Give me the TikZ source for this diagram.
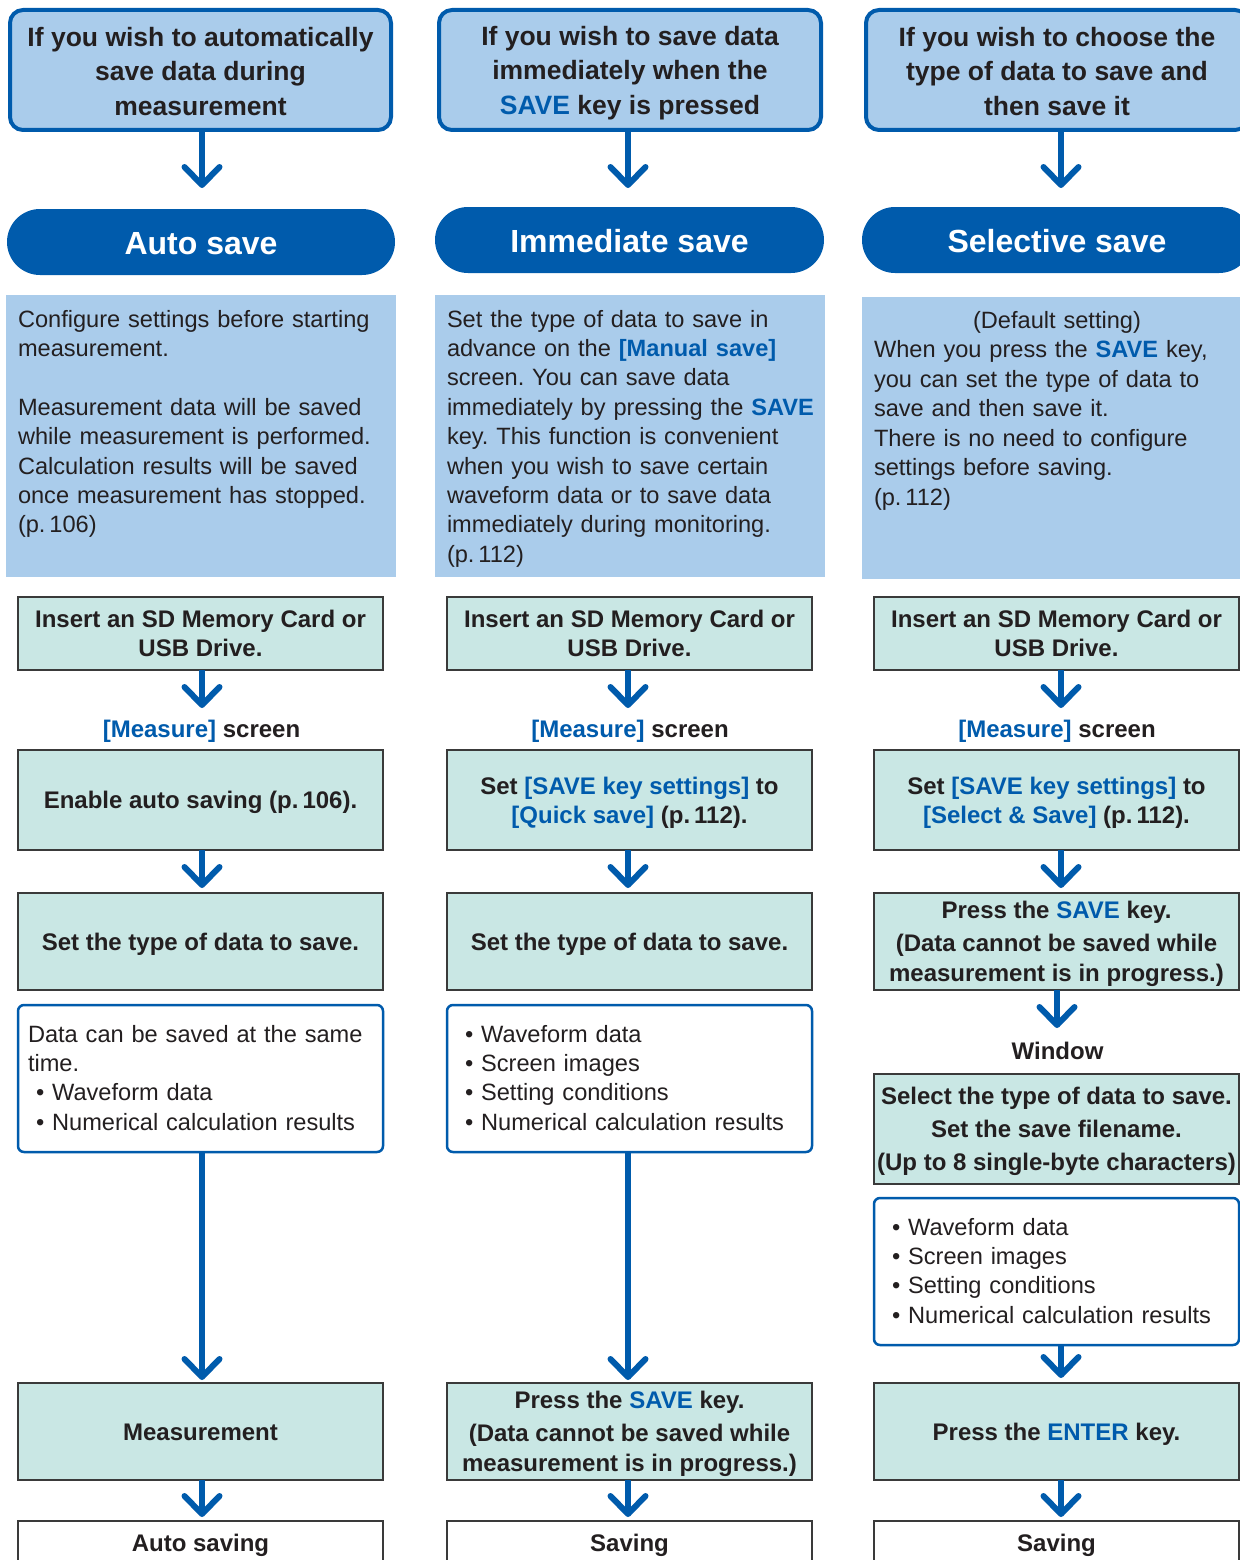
\documentclass[tikz,border=0pt]{standalone}
\usepackage{fontspec}
\setmainfont{Liberation Sans}
\usetikzlibrary{arrows.meta}
\definecolor{kblue}{HTML}{005BAC}
\definecolor{lblue}{HTML}{AACCEB}
\definecolor{tealbg}{HTML}{C9E7E4}
\definecolor{ink}{HTML}{231F20}
\definecolor{edge}{HTML}{3A3A3A}
\newcommand{\kb}[1]{\textcolor{kblue}{#1}}
\newcommand{\kbb}[1]{\textcolor{kblue}{\bfseries #1}}
\newcommand{\tup}{\rule{0pt}{22.5pt}}
\begin{document}
\frenchspacing
\begin{tikzpicture}[x=1pt,y=-1pt,
 every node/.style={inner sep=0pt, outer sep=0pt, text=ink},
 topbox/.style={draw=kblue, line width=4pt, fill=lblue, rounded corners=13pt, align=center, font=\fontsize{26.5}{34.5}\selectfont\bfseries},
 pill/.style={fill=kblue, rounded corners=33pt, text=white, font=\fontsize{32}{38}\selectfont\bfseries},
 descbox/.style={fill=lblue},
 desctext/.style={font=\fontsize{23.6}{29.4}\selectfont, align=left, text width=400pt, anchor=base west},
 stepbox/.style={draw=edge, line width=1.3pt, fill=tealbg, align=center, minimum width=365pt, font=\fontsize{24}{29.5}\selectfont\bfseries},
 listbox/.style={draw=kblue, line width=2.5pt, fill=white, rounded corners=6pt, minimum width=365pt, minimum height=147pt},
 endbox/.style={draw=edge, line width=1.3pt, fill=white, minimum width=365pt, minimum height=44pt, font=\fontsize{24}{29.5}\selectfont\bfseries},
 lab/.style={font=\fontsize{24}{29.5}\selectfont\bfseries},
 flow/.style={draw=kblue, line width=6pt, -{Straight Barb[length=18pt,width=35pt,round]}},
]
\useasboundingbox (0,0) rectangle (1239,1560);
\fill[white] (0,0) rectangle (1239,1560);

% ---------- column 1 ----------
\node[topbox, minimum width=381pt, minimum height=120pt] (t1) at (200.5,70)
  {\rule{0pt}{21.5pt}If you wish to automatically\\save data during\\measurement};
\node[pill, minimum width=388pt, minimum height=66pt] (p1) at (201,242) {\rule{0pt}{25.5pt}Auto save};
\node[descbox, minimum width=390pt, minimum height=282pt] (d1) at (201,436) {};
\node[desctext] (dt1) at (18,327) {Configure settings before starting\\measurement.\\[29.4pt]Measurement data will be saved\\while measurement is performed.\\Calculation results will be saved\\once measurement has stopped.\\(p.\,106)};
\node[stepbox, minimum height=73pt] (i1) at (200.5,633.5) {Insert an SD Memory Card or\\USB Drive.};
\node[lab] (m1) at (201.5,729) {\tup\kb{[Measure]} screen};
\node[stepbox, minimum height=100pt] (e1) at (200.5,800) {\tup Enable auto saving (p.\,106).};
\node[stepbox, minimum height=97pt] (s1) at (200.5,941.5) {\tup Set the type of data to save.};
\node[listbox] (l1) at (200.5,1078.5) {};
\node[desctext] (lt1) at (28,1042) {Data can be saved at the same\\time.\\\hspace*{8pt}• Waveform data\\\hspace*{8pt}• Numerical calculation results};
\node[stepbox, minimum height=97pt] (r1) at (200.5,1431.5) {\rule{0pt}{17.5pt}Measurement};
\node[endbox] (f1) at (200.5,1543) {\tup Auto saving};

\draw[flow, shorten >=21pt] ([xshift=1.5pt]t1.south) -- ([xshift=1.5pt]t1.south |- p1.north);
\draw[flow, shorten >=42pt] ([xshift=1.5pt]i1.south) -- ([xshift=1.5pt]i1.south |- e1.north);
\draw[flow, shorten >=5pt] ([xshift=1.5pt]e1.south) -- ([xshift=1.5pt]e1.south |- s1.north);
\draw[flow, shorten >=3pt] ([xshift=1.5pt]l1.south) -- ([xshift=1.5pt]l1.south |- r1.north);
\draw[flow, shorten >=4pt] ([xshift=1.5pt]r1.south) -- ([xshift=1.5pt]r1.south |- f1.north);

% ---------- column 2 ----------
\node[topbox, minimum width=382pt, minimum height=120pt] (t2) at (630,70)
  {\rule{0pt}{25.5pt}If you wish to save data\\immediately when the\\\kb{SAVE} key is pressed};
\node[pill, minimum width=389pt, minimum height=66pt] (p2) at (629.5,240) {\rule{0pt}{25pt}Immediate save};
\node[descbox, minimum width=390pt, minimum height=282pt] (d2) at (630,436) {};
\node[desctext] (dt2) at (447,327) {Set the type of data to save in\\advance on the \kbb{[Manual save]}\\screen. You can save data\\immediately by pressing the \kbb{SAVE}\\key. This function is convenient\\when you wish to save certain\\waveform data or to save data\\immediately during monitoring.\\(p.\,112)};
\node[stepbox, minimum height=73pt] (i2) at (629.5,633.5) {Insert an SD Memory Card or\\USB Drive.};
\node[lab] (m2) at (630,729) {\tup\kb{[Measure]} screen};
\node[stepbox, minimum height=100pt] (e2) at (629.5,800) {\tup Set \kb{[SAVE key settings]} to\\\kb{[Quick save]} (p.\,112).};
\node[stepbox, minimum height=97pt] (s2) at (629.5,941.5) {\tup Set the type of data to save.};
\node[listbox] (l2) at (629.5,1078.5) {};
\node[desctext] (lt2) at (465,1042) {• Waveform data\\• Screen images\\• Setting conditions\\• Numerical calculation results};
\node[stepbox, minimum height=97pt] (r2) at (629.5,1431.5) {\tup Press the \kb{SAVE} key.\\[3.5pt](Data cannot be saved while\\measurement is in progress.)};
\node[endbox] (f2) at (629.5,1543) {\tup Saving};

\draw[flow, shorten >=19pt] ([xshift=-2pt]t2.south) -- ([xshift=-2pt]t2.south |- p2.north);
\draw[flow, shorten >=42pt] ([xshift=-1.5pt]i2.south) -- ([xshift=-1.5pt]i2.south |- e2.north);
\draw[flow, shorten >=5pt] ([xshift=-1.5pt]e2.south) -- ([xshift=-1.5pt]e2.south |- s2.north);
\draw[flow, shorten >=3pt] ([xshift=-1.5pt]l2.south) -- ([xshift=-1.5pt]l2.south |- r2.north);
\draw[flow, shorten >=4pt] ([xshift=-1.5pt]r2.south) -- ([xshift=-1.5pt]r2.south |- f2.north);

% ---------- column 3 ----------
\node[topbox, minimum width=382pt, minimum height=120pt] (t3) at (1057,70)
  {\rule{0pt}{21.5pt}If you wish to choose the\\type of data to save and\\then save it};
\node[pill, minimum width=390pt, minimum height=66pt] (p3) at (1057,240) {\rule{0pt}{25pt}Selective save};
\node[descbox, minimum width=390pt, minimum height=282pt] (d3) at (1057,438) {};
\node[desctext, font=\fontsize{23.6}{29.5}\selectfont] (dt3) at (874,328) {\makebox[366pt][c]{(Default setting)}\\When you press the \kbb{SAVE} key,\\you can set the type of data to\\save and then save it.\\There is no need to configure\\settings before saving.\\(p.\,112)};
\node[stepbox, minimum height=73pt] (i3) at (1056.5,633.5) {Insert an SD Memory Card or\\USB Drive.};
\node[lab] (m3) at (1057,729) {\tup\kb{[Measure]} screen};
\node[stepbox, minimum height=100pt] (e3) at (1056.5,800) {\tup Set \kb{[SAVE key settings]} to\\\kb{[Select \& Save]} (p.\,112).};
\node[stepbox, minimum height=97pt] (s3) at (1056.5,941.5) {\tup Press the \kb{SAVE} key.\\[3.5pt](Data cannot be saved while\\measurement is in progress.)};
\node[lab] (w3) at (1057.5,1050) {\rule{0pt}{20pt}Window};
\node[stepbox, minimum height=110pt] (q3) at (1056.5,1129) {\tup Select the type of data to save.\\[3.5pt]Set the save filename.\\[3.5pt](Up to 8 single-byte characters)};
\node[listbox] (l3) at (1056.5,1271.5) {};
\node[desctext] (lt3) at (892,1235) {• Waveform data\\• Screen images\\• Setting conditions\\• Numerical calculation results};
\node[stepbox, minimum height=97pt] (r3) at (1056.5,1431.5) {\tup Press the \kb{ENTER} key.};
\node[endbox] (f3) at (1056.5,1543) {\tup Saving};

\draw[flow, shorten >=19pt] ([xshift=4pt]t3.south) -- ([xshift=4pt]t3.south |- p3.north);
\draw[flow, shorten >=42pt] ([xshift=4.5pt]i3.south) -- ([xshift=4.5pt]i3.south |- e3.north);
\draw[flow, shorten >=5pt] ([xshift=4.5pt]e3.south) -- ([xshift=4.5pt]e3.south |- s3.north);
\draw[flow, shorten >=46pt] ([xshift=0.5pt]s3.south) -- ([xshift=0.5pt]s3.south |- q3.north);
\draw[flow, shorten >=5pt] ([xshift=4.5pt]l3.south) -- ([xshift=4.5pt]l3.south |- r3.north);
\draw[flow, shorten >=4pt] ([xshift=4.5pt]r3.south) -- ([xshift=4.5pt]r3.south |- f3.north);
\end{tikzpicture}
\end{document}
